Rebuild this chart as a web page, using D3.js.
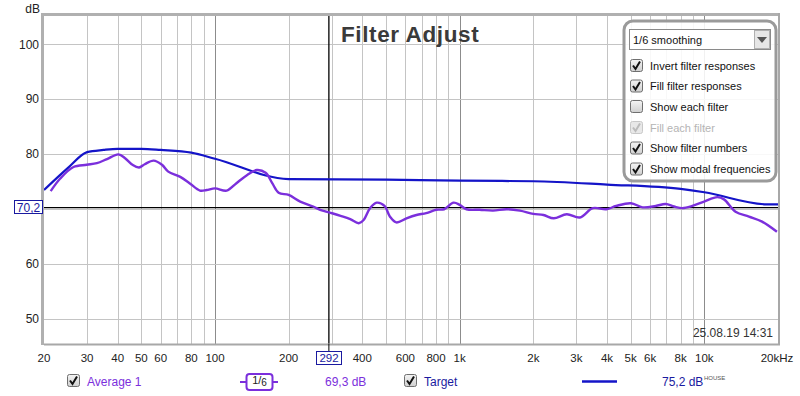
<!DOCTYPE html>
<html><head><meta charset="utf-8">
<script src="https://cdn.jsdelivr.net/npm/d3@7"></script>
<style>body{margin:0;background:#fff}svg{display:block}text{font-family:"Liberation Sans",Arial,sans-serif}</style>
</head><body><svg id="c" width="800" height="396"></svg>
<script>
// ---- data ----
const targetFreq = [20, 25, 30, 35, 40, 50, 60, 80, 100, 200, 500, 1000, 2000, 4000, 8000, 10000, 18000, 20000];
const targetDb   = [73.4, 77.4, 80.3, 80.7, 80.9, 80.9, 80.7, 80.2, 79.1, 75.4, 75.3, 75.1, 75.0, 74.4, 73.6, 73.0, 70.8, 70.8];

const avgFreq = [21.3, 23.3, 26.4, 29.9, 32.9, 36.2, 40.3, 42.9, 46.0, 48.9, 51.6, 56.1, 60.7, 64.4, 72.1, 78.9,
  86.8, 92.4, 100, 111.6, 122, 135, 148, 161, 171.6, 182, 200, 223, 252, 269, 294, 326, 357, 387, 405, 430, 458, 493,
  519, 551, 606, 666, 730, 802, 864, 944, 1000, 1066, 1206, 1369, 1554, 1763, 2000, 2200, 2424, 2740, 3100, 3500,
  3975, 4360, 5010, 5590, 6330, 6950, 7520, 8130, 8930, 9980, 11300, 12030, 13410, 15220, 17220, 19800];
const avgDb = [73.2, 75.5, 77.6, 78.0, 78.3, 79.05, 79.9, 79.2, 78.0, 77.5, 78.1, 78.75, 78.0, 76.75, 75.8, 74.6,
  73.3, 73.4, 73.7, 73.3, 74.6, 76.1, 77.05, 76.55, 74.6, 72.9, 72.5, 71.3, 70.4, 69.8, 69.3, 68.7, 68.1, 67.35, 67.95, 70.1, 71.1, 70.5,
  68.55, 67.5, 68.25, 68.85, 69.2, 69.8, 69.9, 71.1, 70.7, 69.9, 69.8, 69.65, 69.9, 69.65, 69.05, 68.85, 68.25, 69.0, 68.4, 70.1,
  69.9, 70.5, 71.0, 70.25, 70.5, 70.85, 70.4, 70.1, 70.5, 71.3, 72.1, 71.7, 69.45, 68.55, 67.65, 65.8];

const xTickValues = [20, 30, 40, 50, 60, 80, 100, 200, 400, 600, 800, 1000, 2000, 3000, 4000, 5000, 6000, 8000, 10000, 20000];
const xTickLabels = ["20","30","40","50","60","80","100","200","400","600","800","1k","2k","3k","4k","5k","6k","8k","10k","20kHz"];
const xGrid = [30,40,50,60,70,80,90,100,200,300,400,500,600,700,800,900,1000,2000,3000,4000,5000,6000,7000,8000,9000,10000];
const xMajor = [100, 1000, 10000];
const yGrid = [50, 60, 70, 80, 90, 100];
const yTickLabels = [50, 60, 80, 90, 100];
const cursorFreq = 292, cursorDb = 70.2;
const options = ["Invert filter responses","Fill filter responses","Show each filter","Fill each filter","Show filter numbers","Show modal frequencies"];
const optionChecked = [true, true, false, true, true, true];
const optionEnabled = [true, true, true, false, true, true];

// ---- drawing ----
const svg = d3.select("#c");
const L = 44, R = 778, T = 16, B = 344;
const x = d3.scaleLog().domain([20, 20000]).range([L, R]);
const y = d3.scaleLinear().domain([50, 100]).range([318.5, 44]);
const purple = "#7b2fdc", blue = "#1414c8";

svg.append("defs").append("clipPath").attr("id","clip").append("rect").attr("x",L).attr("y",T).attr("width",R-L).attr("height",B-T);
const lg = svg.select("defs").append("linearGradient").attr("id","cb").attr("x1",0).attr("y1",0).attr("x2",0).attr("y2",1);
lg.append("stop").attr("offset",0).attr("stop-color","#f4f4f4");
lg.append("stop").attr("offset",1).attr("stop-color","#cfcfcf");

// plot bg and frame
svg.append("rect").attr("x",L).attr("y",T).attr("width",R-L).attr("height",B-T).attr("fill","#fff");
const g = svg.append("g").attr("clip-path","url(#clip)");
g.selectAll(".vg").data(xGrid).join("line")
  .attr("x1",d=>Math.round(x(d))+0.5).attr("x2",d=>Math.round(x(d))+0.5).attr("y1",T).attr("y2",B)
  .attr("stroke",d=>xMajor.includes(d)?"#8c8c8c":"#c4c4c4").attr("stroke-width",1);
g.selectAll(".hg").data(yGrid).join("line")
  .attr("x1",L).attr("x2",R).attr("y1",d=>Math.round(y(d))+0.5).attr("y2",d=>Math.round(y(d))+0.5)
  .attr("stroke","#c4c4c4");

// title
svg.append("text").attr("x",341).attr("y",41.5).attr("font-size",22.5).attr("font-weight","bold").attr("letter-spacing",0.6).attr("fill","#3a3a3a").text("Filter Adjust");

// cursor lines
g.append("line").attr("x1",L).attr("x2",R).attr("y1",y(cursorDb)).attr("y2",y(cursorDb)).attr("stroke","#000").attr("stroke-width",1.3);
g.append("line").attr("x1",x(cursorFreq)).attr("x2",x(cursorFreq)).attr("y1",T).attr("y2",B).attr("stroke","#000").attr("stroke-width",1.3);

// curves
const lineT = d3.line().x(d=>x(d[0])).y(d=>y(d[1])).curve(d3.curveMonotoneX);
const line = d3.line().x(d=>x(d[0])).y(d=>y(d[1])).curve(d3.curveCatmullRom.alpha(0.5));
g.append("path").datum(targetFreq.map((f,i)=>[f,targetDb[i]])).attr("d",lineT).attr("fill","none").attr("stroke",blue).attr("stroke-width",2.2);
g.append("path").datum(avgFreq.map((f,i)=>[f,avgDb[i]])).attr("d",line).attr("fill","none").attr("stroke",purple).attr("stroke-width",2.4);

// frame
svg.append("line").attr("x1",L-1.5).attr("x2",L-1.5).attr("y1",T-2).attr("y2",B+1).attr("stroke","#b0b0b0").attr("stroke-width",3);
svg.append("line").attr("x1",L-3).attr("x2",R+2).attr("y1",T-1.5).attr("y2",T-1.5).attr("stroke","#b0b0b0").attr("stroke-width",3);
svg.append("line").attr("x1",L).attr("x2",R+2).attr("y1",B+0.5).attr("y2",B+0.5).attr("stroke","#a8a8a8").attr("stroke-width",2);
svg.append("line").attr("x1",R+1).attr("x2",R+1).attr("y1",T-3).attr("y2",B+1).attr("stroke","#a8a8a8").attr("stroke-width",2);

// y axis
svg.append("text").attr("x",40).attr("y",13).attr("text-anchor","end").attr("font-size",12).attr("fill","#222").text("dB");
svg.selectAll(".yl").data(yTickLabels).join("text").attr("x",39).attr("y",d=>y(d)+4.5)
  .attr("text-anchor","end").attr("font-size",12).attr("fill","#222").text(d=>d);
// 70,2 label
svg.append("rect").attr("x",14.5).attr("y",200.5).attr("width",28).attr("height",13).attr("fill","#fff").attr("stroke","#1a1aa0");
svg.append("text").attr("x",28.5).attr("y",211.5).attr("text-anchor","middle").attr("font-size",12).attr("fill","#1a1aa0").text(String(cursorDb).replace(".",","));

// x axis
svg.selectAll(".xl").data(xTickValues).join("text").attr("x",(d,i)=>x(d)+(i===xTickValues.length-1?-1:0)).attr("y",361.5)
  .attr("text-anchor","middle").attr("font-size",11.5).attr("fill","#222").text((d,i)=>xTickLabels[i]);
svg.append("line").attr("x1",x(cursorFreq)).attr("x2",x(cursorFreq)).attr("y1",B).attr("y2",352).attr("stroke","#000");
svg.append("rect").attr("x",316.5).attr("y",351.5).attr("width",25).attr("height",13).attr("fill","#fff").attr("stroke","#1a1aa0");
svg.append("text").attr("x",329).attr("y",362).attr("text-anchor","middle").attr("font-size",11.5).attr("fill","#1a1aa0").text(cursorFreq);

// date
svg.append("text").attr("x",773).attr("y",337).attr("text-anchor","end").attr("font-size",12).attr("fill","#333").text("25.08.19 14:31");

// checkbox helper
function checkbox(px, py, checked, enabled){
  const cg = svg.append("g").attr("transform",`translate(${px},${py})`);
  cg.append("rect").attr("x",0.5).attr("y",0.5).attr("width",12).attr("height",12).attr("rx",2)
    .attr("fill", enabled ? "url(#cb)" : "#e8e8e8").attr("stroke", enabled ? "#6f6f6f" : "#c8c8c8");
  if(checked) cg.append("path").attr("d","M3,6.5 L5.5,10 L10,2.5").attr("fill","none")
    .attr("stroke", enabled ? "#111" : "#bbb").attr("stroke-width",2);
}

// options box
svg.append("rect").attr("x",624).attr("y",21).attr("width",152).attr("height",160).attr("rx",9)
  .attr("fill","#fff").attr("fill-opacity",0.88).attr("stroke","#9a9a9a").attr("stroke-width",3);
svg.append("rect").attr("x",629.5).attr("y",29.5).attr("width",141).attr("height",20).attr("fill","#fff").attr("stroke","#8a8a8a");
svg.append("rect").attr("x",754.5).attr("y",30.5).attr("width",15).attr("height",18).attr("fill","#e6e6e6").attr("stroke","#b0b0b0");
svg.append("path").attr("d","M757,37 L767,37 L762,43 Z").attr("fill","#555");
svg.append("text").attr("x",633).attr("y",44).attr("font-size",11).attr("fill","#111").text("1/6 smoothing");
const rowY = [65.5, 86, 106.5, 127.5, 148, 169];
options.forEach((o,i)=>{
  checkbox(630, rowY[i]-6.5, optionChecked[i], optionEnabled[i]);
  svg.append("text").attr("x",650).attr("y",rowY[i]+4).attr("font-size",11).attr("fill",optionEnabled[i]?"#111":"#b4b4b4").text(o);
});

// bottom legend
checkbox(67, 374, true, true);
svg.append("text").attr("x",87).attr("y",386).attr("font-size",12).attr("fill",purple).text("Average 1");
svg.append("line").attr("x1",240).attr("x2",278).attr("y1",382).attr("y2",382).attr("stroke",purple).attr("stroke-width",2);
svg.append("rect").attr("x",246.5).attr("y",374).attr("width",26).attr("height",16).attr("rx",3).attr("fill","#fff").attr("stroke",purple).attr("stroke-width",2);
const ft = svg.append("text").attr("x",259.5).attr("y",386).attr("text-anchor","middle").attr("font-size",11).attr("fill","#222");
ft.append("tspan").attr("dy",-2).text("1");
ft.append("tspan").attr("dy",0).attr("font-size",11).text("/");
ft.append("tspan").attr("dy",2).attr("font-size",10).text("6");
svg.append("text").attr("x",325).attr("y",386).attr("font-size",12).attr("fill",purple).text("69,3 dB");
checkbox(404, 374, true, true);
svg.append("text").attr("x",424).attr("y",386).attr("font-size",12).attr("fill","#1a1aa0").text("Target");
svg.append("line").attr("x1",582).attr("x2",617).attr("y1",381.5).attr("y2",381.5).attr("stroke",blue).attr("stroke-width",2.5);
svg.append("text").attr("x",662).attr("y",386).attr("font-size",12).attr("fill","#1a1aa0").text("75,2 dB");
svg.append("text").attr("x",704).attr("y",379.5).attr("font-size",6).attr("fill","#555").text("HOUSE");
</script></body></html>
